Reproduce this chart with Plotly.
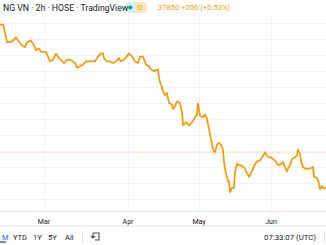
import plotly.graph_objects as go

W, H = 326, 245

# ---- data (bar index, price) ----
bar_index = [0, 3, 5, 7, 10, 13, 16, 18, 22, 25, 27, 31, 34, 36, 39, 41, 46, 48, 50, 53,
             56, 59, 62, 64, 67, 70, 73, 75, 77, 80, 83, 86, 90, 93, 95, 98, 101, 103, 104, 107,
             110, 113, 116, 119, 121, 124, 127, 129, 132, 135, 138, 140, 143, 146, 149, 151, 154, 158, 159, 160,
             162, 163, 165, 167, 169, 172, 173, 175, 177, 180, 182, 183, 186, 189, 192, 195, 197, 198, 200, 203,
             205, 207, 209, 211, 213, 215, 217, 219, 221, 223, 224, 226, 228, 229, 230, 232, 234, 235, 237, 239,
             241, 243, 245, 247, 249, 251, 253, 255, 258, 260, 262, 265, 267, 269, 271, 273, 275, 277, 279, 281,
             283, 285, 287, 288, 290, 292, 295, 297, 298, 300, 301, 303, 305, 307, 310, 313, 314, 317, 319, 320,
             322, 323, 326]
price = [42950, 42950, 42700, 42400, 42400, 42450, 42550, 42450, 42300, 42250, 42400, 42450, 42300, 42150, 42200, 42100, 42100, 41950, 41800, 41850,
         42050, 41900, 41800, 41750, 41850, 41850, 41800, 41750, 41600, 41650, 41700, 41800, 41800, 41800, 41800, 41950, 42050, 42050, 41900, 41800,
         41800, 41750, 41800, 41900, 41800, 41850, 41950, 42050, 41950, 41800, 41750, 41950, 41950, 41700, 41650, 41550, 41500, 41550, 41300, 41150,
         41000, 40850, 40750, 40800, 40500, 40450, 40300, 40400, 40550, 40500, 40200, 39800, 39900, 39800, 39900, 40050, 40150, 40500, 40100, 40050,
         40150, 40000, 39700, 39450, 39050, 38950, 39200, 39250, 39200, 39050, 38650, 38300, 38050, 38050, 37700, 37850, 37850, 38350, 38600, 38550,
         38550, 38500, 38450, 38300, 38200, 38300, 38450, 38600, 38700, 38700, 38800, 38950, 38850, 38800, 38800, 38750, 38700, 38600, 38550, 38600,
         38650, 38500, 38350, 38450, 38550, 38750, 38800, 38850, 39050, 38900, 38700, 38500, 38450, 38450, 38450, 38500, 38200, 38150, 38000, 37800,
         37900, 37850, 37850]
ref_price = 38950
month_pos = [44, 128, 199, 271]
month_labels = ["Mar", "Apr", "May", "Jun"]
range_buttons = ["YTD", "1Y", "5Y", "All"]
range_button_x = [19.5, 37, 52.5, 69]

ORANGE = "#ff9800"
GRID = "#f0f3fa"
TXT = "#131722"
FONT = "Roboto"

fig = go.Figure()
fig.add_trace(go.Scatter(x=bar_index, y=price, mode="lines",
                         line=dict(color=ORANGE, width=1.7), hoverinfo="skip"))

def py(p):  # pixel y -> paper fraction
    return (H - p) / H

def px(p):
    return p / W

shapes = [
    # reference price line
    dict(type="line", xref="paper", yref="y", x0=0, x1=1, y0=ref_price, y1=ref_price,
         line=dict(color="rgba(255,152,0,0.22)", width=1), layer="below"),
    # toolbar separator line
    dict(type="line", xref="paper", yref="paper", x0=0, x1=1, y0=py(226), y1=py(226),
         line=dict(color="#e0e3eb", width=1)),
    # vertical separators in toolbar
    dict(type="line", xref="paper", yref="paper", x0=px(82.5), x1=px(82.5), y0=py(231), y1=py(243),
         line=dict(color="#e0e3eb", width=1)),
    dict(type="line", xref="paper", yref="paper", x0=px(324.5), x1=px(324.5), y0=py(231), y1=py(243),
         line=dict(color="#e0e3eb", width=1)),
    # underline of active range button
    dict(type="line", xref="paper", yref="paper", x0=0, x1=px(6), y0=py(242), y1=py(242),
         line=dict(color="#2962ff", width=1.5)),
    # badge: left (green) half
    dict(type="path", xref="paper", yref="paper",
         path=f"M {px(136)},{py(2)} L {px(130)},{py(2)} Q {px(125)},{py(2)} {px(125)},{py(7.5)} "
              f"Q {px(125)},{py(13)} {px(130)},{py(13)} L {px(136)},{py(13)} Z",
         fillcolor="#d6efe9", line=dict(width=0)),
    # badge: right (orange) half
    dict(type="path", xref="paper", yref="paper",
         path=f"M {px(136)},{py(2)} L {px(142)},{py(2)} Q {px(147)},{py(2)} {px(147)},{py(7.5)} "
              f"Q {px(147)},{py(13)} {px(142)},{py(13)} L {px(136)},{py(13)} Z",
         fillcolor="#ffe3bd", line=dict(width=0)),
    # green dot
    dict(type="circle", xref="paper", yref="paper", x0=px(128.3), x1=px(132.3), y0=py(9.5), y1=py(5.5),
         fillcolor="#089981", line=dict(width=0)),
    # compare icon (approximation)
    dict(type="path", xref="paper", yref="paper",
         path=f"M {px(93)},{py(233)} L {px(99)},{py(233)} L {px(99)},{py(240)} L {px(95)},{py(240)} "
              f"M {px(93)},{py(233)} L {px(93)},{py(238)} M {px(91)},{py(236)} L {px(93)},{py(238)} L {px(95)},{py(236)}",
         line=dict(color="#50535e", width=1.1)),
]

annotations = [
    dict(text="NG VN · 2h · HOSE · TradingView", xref="paper", yref="paper", x=px(0.5), y=py(8),
         xanchor="left", yanchor="middle", showarrow=False,
         font=dict(family=FONT, size=8.7, color=TXT)),
    dict(text="D", xref="paper", yref="paper", x=px(139.5), y=py(7.8),
         xanchor="center", yanchor="middle", showarrow=False,
         font=dict(family=FONT, size=8, color=ORANGE)),
    dict(text="37850 +200 (+0.53%)", xref="paper", yref="paper", x=px(156), y=py(8),
         xanchor="left", yanchor="middle", showarrow=False,
         font=dict(family=FONT, size=7.6, color=ORANGE)),
    dict(text="M", xref="paper", yref="paper", x=0, y=py(237),
         xanchor="left", yanchor="middle", showarrow=False,
         font=dict(family=FONT, size=7.5, color="#2962ff")),
    dict(text="07:33:07 (UTC)", xref="paper", yref="paper", x=px(318), y=py(237),
         xanchor="right", yanchor="middle", showarrow=False,
         font=dict(family=FONT, size=7.8, color=TXT)),
]
for lab, xb in zip(range_buttons, range_button_x):
    annotations.append(dict(text=lab, xref="paper", yref="paper", x=px(xb), y=py(237),
                            xanchor="center", yanchor="middle", showarrow=False,
                            font=dict(family=FONT, size=7.5, color=TXT)))

fig.update_layout(
    width=W, height=H, margin=dict(l=0, r=0, t=0, b=0),
    paper_bgcolor="white", plot_bgcolor="white", showlegend=False,
    xaxis=dict(range=[0, 326], domain=[0, 1], tickvals=month_pos, ticktext=month_labels,
               showgrid=True, gridcolor=GRID, gridwidth=1, zeroline=False,
               showline=True, linecolor="#e0e3eb", linewidth=1, ticks="",
               ticklabelstandoff=4,
               tickfont=dict(family=FONT, size=7, color=TXT), fixedrange=True),
    yaxis=dict(range=[37125, 43218.75], domain=[34 / H, 229 / H], tick0=37500, dtick=500,
               showgrid=True, gridcolor=GRID, gridwidth=1, zeroline=False,
               showticklabels=False, ticks="", fixedrange=True),
    shapes=shapes, annotations=annotations,
)

fig.write_html("out.html")
